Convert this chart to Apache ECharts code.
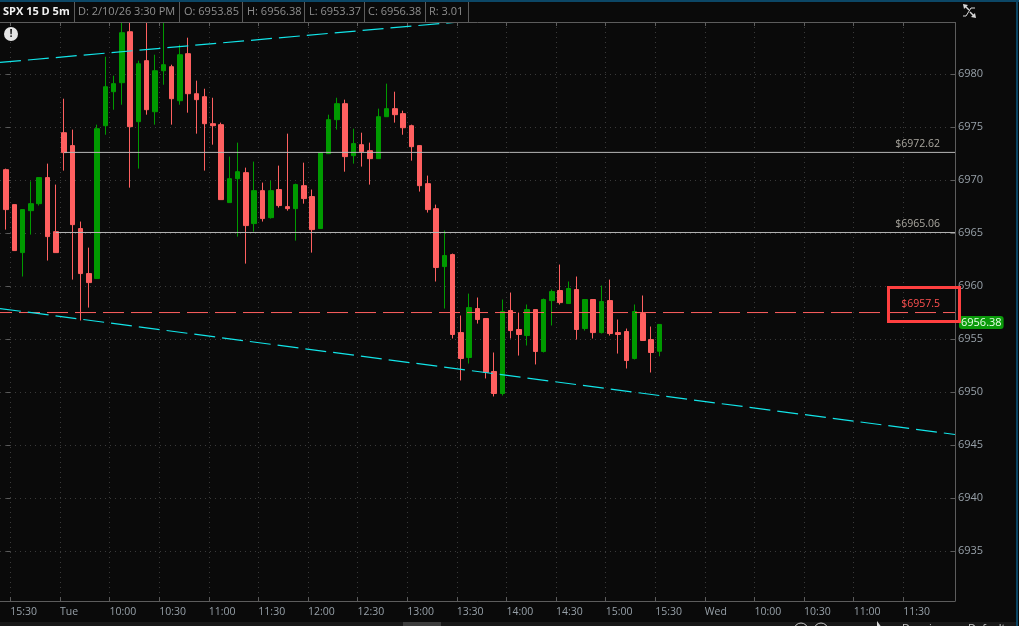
<!DOCTYPE html>
<html>
<head>
<meta charset="utf-8">
<title>SPX 15 D 5m</title>
<script src="https://cdn.jsdelivr.net/npm/echarts@6/dist/echarts.min.js"></script>
<style>
html,body{margin:0;padding:0;background:#0a0a0a;}
#chart{width:1019px;height:626px;}
</style>
</head>
<body>
<div id="chart"></div>
<script>
// bars in order, 5 minute candles, last one is 15:30
var opens=[6970.99,6967.69,6963.16,6967.12,6967.78,6970.24,6965.14,6974.48,6973.26,6965.43,6961.18,6960.71,6975.14,6978.35,6979.20,6984.01,6975.52,6981.28,6976.46,6980.33,
6980.71,6977.50,6981.94,6978.16,6977.88,6975.33,6975.24,6967.88,6970.14,6970.71,6965.90,6969.01,6966.46,6969.11,6967.50,6967.31,6969.48,6968.45,6965.43,6972.50,
6975.71,6977.22,6972.31,6973.35,6972.78,6972.03,6975.99,6976.75,6976.28,6975.14,6973.26,6969.67,6967.31,6961.84,6962.97,6955.61,6953.26,6957.88,6956.94,6951.94,
6949.86,6957.69,6955.90,6955.33,6957.78,6953.82,6958.63,6959.58,6958.35,6959.67,6955.99,6958.73,6955.61,6958.63,6955.61,6955.71,6953.16,6957.41,6954.95,6953.85];
var closes=[6967.22,6963.35,6967.22,6967.78,6970.24,6964.67,6963.16,6972.60,6965.80,6961.18,6960.33,6974.86,6978.82,6979.11,6983.92,6975.05,6980.99,6976.65,6980.33,6980.90,
6977.69,6981.84,6978.16,6977.60,6975.33,6975.14,6968.16,6970.14,6970.80,6965.71,6969.01,6966.37,6969.01,6967.60,6967.31,6969.58,6968.26,6965.33,6972.60,6975.71,
6977.22,6972.22,6973.45,6972.69,6972.03,6975.99,6976.75,6976.18,6974.95,6973.16,6969.48,6967.22,6961.75,6962.88,6955.43,6953.16,6957.97,6956.84,6951.84,6949.86,
6957.60,6955.80,6955.43,6957.78,6953.82,6958.73,6959.48,6958.44,6959.77,6955.90,6958.73,6955.61,6958.54,6955.52,6955.43,6952.97,6957.60,6954.86,6953.73,6956.38];
var lows=[6965.33,6963.35,6960.90,6964.86,6967.60,6962.41,6963.16,6970.90,6960.61,6956.75,6957.97,6960.71,6974.29,6976.65,6977.12,6969.29,6971.09,6976.18,6975.24,6979.01,
6975.24,6977.12,6976.37,6974.39,6970.90,6973.35,6968.16,6967.88,6964.67,6962.12,6965.14,6966.09,6966.37,6967.41,6967.12,6964.29,6967.78,6963.16,6965.43,6972.50,
6974.77,6970.80,6971.56,6971.28,6969.58,6972.03,6975.99,6975.43,6974.29,6971.84,6968.92,6966.94,6960.43,6957.88,6955.05,6951.09,6952.69,6956.46,6951.28,6949.58,
6949.67,6955.05,6953.44,6954.39,6952.60,6953.73,6956.28,6958.26,6958.35,6954.95,6955.80,6955.05,6955.52,6955.33,6953.63,6952.22,6953.07,6954.86,6951.84,6953.37];
var highs=[6971.09,6967.69,6967.22,6969.89,6970.24,6971.56,6969.58,6977.69,6974.77,6966.09,6963.63,6975.24,6981.65,6979.86,6985.60,6986.00,6981.28,6986.00,6981.84,6986.00,
6980.90,6982.78,6983.45,6979.39,6978.63,6977.78,6975.43,6972.22,6973.54,6971.18,6971.75,6969.77,6969.95,6971.37,6974.39,6969.67,6971.65,6969.11,6972.60,6976.18,
6977.78,6977.60,6974.86,6974.48,6973.54,6976.75,6979.11,6978.35,6976.56,6975.24,6973.26,6970.43,6967.69,6965.24,6963.07,6957.22,6959.29,6958.92,6956.94,6953.73,
6958.73,6959.39,6957.50,6958.26,6957.78,6958.82,6959.67,6962.03,6960.43,6960.90,6958.73,6958.73,6960.05,6960.61,6956.84,6955.99,6958.26,6959.11,6956.18,6956.38];

var xTickSlots=[0.5,6.5,12.5,18.5,24.5,30.5,36.5,42.5,48.5,54.5,60.5,66.5,72.5,78.5,84.5,90.5,96.5,102.5,108.5];
var xTickLabels=['15:30','Tue','10:00','10:30','11:00','11:30','12:00','12:30','13:00','13:30','14:00','14:30','15:00','15:30','Wed','10:00','10:30','11:00','11:30'];
var yTicks=[6935,6940,6945,6950,6955,6960,6965,6970,6975,6980];

var levelPrices=[6972.62,6965.06];
var levelStarts=[7,6];
var alertPrice=6957.5;
var lastPrice=6956.38;
var headerCells=['SPX 15 D 5m','D: 2/10/26 3:30 PM','O: 6953.85','H: 6956.38','L: 6953.37','C: 6956.38','R: 3.01'];

var xMin=-0.746, xMax=114.75, yMin=6930.27, yMax=6984.93;
var trendUpper=[[xMin,6981.11],[54.5,6984.92]];
var trendLower=[[xMin,6957.88],[xMax,6945.99]];

var UP='#009a00', DOWN='#ff6060', CYAN='#12e4e8', GREY='#b8b8b8', AXIS='#5c5c5c', TXT='#97a0a8', FONT='"Open Sans"';

var candles=[];
for(var i=0;i<opens.length;i++){
    candles.push([i,opens[i],closes[i],lows[i],highs[i]]);
}

var series=[{
    type:'candlestick',
    data:candles,
    encode:{x:0,y:[1,2,3,4]},
    barWidth:5,
    itemStyle:{color:UP,color0:DOWN,borderColor:UP,borderColor0:DOWN,borderWidth:1},
    silent:true,
    z:3,
    markPoint:{
        silent:true,
        symbolSize:0,
        data:[{coord:[xMax,lastPrice]}],
        label:{
            show:true,position:'right',distance:4,offset:[0,-2],
            formatter:String(lastPrice),
            color:'#e8ffe8',backgroundColor:'#0a9a0a',borderRadius:3,
            padding:[1,2,1,2],fontFamily:FONT,fontSize:11
        }
    }
}];

function lineSeries(data,color,dash,offset,z,width){
    return {
        type:'line',data:data,symbol:'none',silent:true,z:z,
        lineStyle:{color:color,width:width||1,type:dash,dashOffset:offset}
    };
}

levelPrices.forEach(function(p,k){
    var s=lineSeries([[levelStarts[k],p],[xMax,p]],GREY,'solid',0,4);
    s.endLabel={
        show:true,formatter:'$'+p,color:'#aaa79f',fontFamily:FONT,fontSize:10.5,
        align:'right',verticalAlign:'bottom',offset:[-23,-3]
    };
    series.push(s);
});
var alertLine=lineSeries([[xMin,alertPrice],[xMax,alertPrice]],DOWN,[21,7],9,4);
alertLine.endLabel={
    show:true,formatter:'$'+alertPrice,color:'#ff5050',fontFamily:FONT,fontSize:10.5,
    align:'right',verticalAlign:'bottom',offset:[-23,-3]
};
series.push(alertLine);
series.push(lineSeries(trendUpper,CYAN,[21,7],0,5,1.2));
series.push(lineSeries(trendLower,CYAN,[21,7],0,5,1.2));

// header strip and the drawn bits that are not data
var headerX=[3,78,184,247,309,368,429];
var dividers=[74,179,242,304,364,425,468];
var graphics=[
    {type:'rect',shape:{x:0,y:0,width:1019,height:22},style:{fill:'#0a0a0a'},z:20},
    {type:'rect',shape:{x:0,y:0,width:1019,height:2},style:{fill:'#0c4766'},z:21},
    {type:'rect',shape:{x:1016,y:0,width:2,height:626},style:{fill:'#0c4766'},z:21},
    {type:'rect',shape:{x:0,y:622,width:1016,height:4},style:{fill:'#181818'},z:20},
    {type:'rect',shape:{x:403,y:622,width:38,height:4},style:{fill:'#3c3c3c'},z:21},
    {type:'line',shape:{x1:0,y1:22.5,x2:955,y2:22.5},style:{stroke:AXIS,lineWidth:1},z:21},
    {type:'circle',shape:{cx:11,cy:34,r:7},style:{fill:'#e6e6e6'},z:21},
    {type:'text',style:{x:11,y:34,text:'!',fill:'#222',font:'bold 11px '+FONT,align:'center',verticalAlign:'middle'},z:22},
    {type:'rect',shape:{x:888.5,y:287.5,width:71,height:34},style:{fill:'none',stroke:'#ff4040',lineWidth:3},z:15},
    {type:'polyline',shape:{points:[[963,16],[966,16],[971,8],[975,8]]},style:{stroke:'#d8d8d8',fill:'none',lineWidth:1},z:21},
    {type:'polygon',shape:{points:[[963,4],[968,5],[964,9]]},style:{fill:'#d8d8d8'},z:21},
    {type:'line',shape:{x1:965,y1:6,x2:969,y2:10},style:{stroke:'#d8d8d8',lineWidth:1.5},z:21},
    {type:'polygon',shape:{points:[[976,18],[971,17],[975,13]]},style:{fill:'#d8d8d8'},z:21},
    {type:'line',shape:{x1:974,y1:16,x2:970,y2:12},style:{stroke:'#d8d8d8',lineWidth:1.5},z:21},
    {type:'circle',shape:{cx:801,cy:630,r:7},style:{fill:'none',stroke:'#c8c8c8',lineWidth:1},z:21},
    {type:'circle',shape:{cx:821,cy:630,r:7},style:{fill:'none',stroke:'#c8c8c8',lineWidth:1},z:21},
    {type:'polygon',shape:{points:[[877,621],[877,632],[885,632]]},style:{fill:'#d8d8d8'},z:21},
    {type:'text',style:{x:902,y:629,text:'Drawings',fill:'#c8c8c8',font:'11px '+FONT,align:'left',verticalAlign:'middle'},z:21},
    {type:'text',style:{x:968,y:629,text:'Default',fill:'#c8c8c8',font:'11px '+FONT,align:'left',verticalAlign:'middle'},z:21}
];
headerCells.forEach(function(t,k){
    graphics.push({type:'text',z:22,style:{
        x:headerX[k],y:12,text:t,
        fill:k==0?'#f2f2f2':'#8f8f8f',
        font:(k==0?'bold ':'')+'11px '+FONT,
        align:'left',verticalAlign:'middle'
    }});
});
dividers.forEach(function(x){
    graphics.push({type:'line',z:21,shape:{x1:x+0.5,y1:2,x2:x+0.5,y2:22},style:{stroke:AXIS,lineWidth:1}});
});

var dotted={show:true,lineStyle:{color:'#3a3a3a',width:1,type:[1,4]}};
var myChart=echarts.init(document.getElementById('chart'),null,{renderer:'canvas'});
var option={
    animation:false,
    backgroundColor:'#0a0a0a',
    grid:{left:0,right:64,top:22,height:579},
    xAxis:[{
        type:'value',min:xMin,max:xMax,position:'bottom',
        axisLine:{show:true,onZero:false,lineStyle:{color:AXIS}},
        axisTick:{show:true,inside:true,length:4,customValues:xTickSlots,lineStyle:{color:AXIS}},
        axisLabel:{
            show:true,customValues:xTickSlots,align:'left',margin:6,
            color:TXT,fontFamily:FONT,fontSize:10.5,
            showMinLabel:true,showMaxLabel:true,
            formatter:function(v){return xTickLabels[xTickSlots.indexOf(v)];}
        },
        splitLine:Object.assign({customValues:xTickSlots},dotted)
    },{
        type:'value',min:xMin,max:xMax,position:'top',
        axisLine:{show:false},
        axisTick:{show:true,inside:true,length:4,customValues:xTickSlots,lineStyle:{color:AXIS}},
        axisLabel:{show:false},
        splitLine:{show:false}
    }],
    yAxis:[{
        type:'value',min:yMin,max:yMax,position:'right',
        axisLine:{show:true,onZero:false,lineStyle:{color:AXIS}},
        axisTick:{show:true,inside:true,length:4,customValues:yTicks,lineStyle:{color:AXIS}},
        axisLabel:{
            show:true,customValues:yTicks,margin:3,color:TXT,fontFamily:FONT,fontSize:11,align:'left',
            verticalAlign:'top',padding:[-6,0,0,0],
            formatter:function(v){return String(v);}
        },
        splitLine:Object.assign({customValues:yTicks},dotted)
    },{
        type:'value',min:yMin,max:yMax,position:'left',
        axisLine:{show:false},
        axisTick:{show:true,inside:true,length:4,customValues:yTicks,lineStyle:{color:AXIS}},
        axisLabel:{show:false},
        splitLine:{show:false}
    }],
    graphic:graphics,
    series:series
};
myChart.setOption(option);
</script>
</body>
</html>
